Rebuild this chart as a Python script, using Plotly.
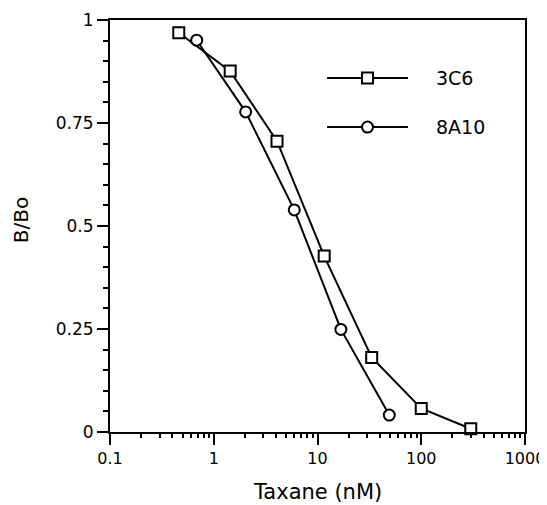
import plotly.graph_objects as go

# ---- data ----
x_3c6 = [0.46, 1.44, 4.07, 11.6, 33.3, 100, 300]
y_3c6 = [0.969, 0.876, 0.706, 0.427, 0.181, 0.057, 0.008]
x_8a10 = [0.685, 2.03, 5.97, 16.8, 49.2]
y_8a10 = [0.951, 0.777, 0.539, 0.249, 0.041]
series_names = ["3C6", "8A10"]
x_tickvals = [0.1, 1, 10, 100, 1000]
x_ticktext = ["0.1", "1", "10", "100", "1000"]
y_tickvals = [0, 0.25, 0.5, 0.75, 1]
y_ticktext = ["0", "0.25", "0.5", "0.75", "1"]
x_title = "Taxane (nM)"
y_title = "B/Bo"

FONT = "DejaVu Sans, Liberation Sans, sans-serif"
BLACK = "black"

x_minor = [m * 10 ** e for e in range(-1, 3) for m in range(2, 10)]

fig = go.Figure()

marker_sq = dict(symbol="square", size=11, color="white", line=dict(color=BLACK, width=2))
marker_ci = dict(symbol="circle", size=11, color="white", line=dict(color=BLACK, width=2))

fig.add_trace(go.Scatter(x=x_3c6, y=y_3c6, mode="lines+markers", name=series_names[0],
                         line=dict(color=BLACK, width=2), marker=marker_sq, cliponaxis=False,
                         showlegend=False))
fig.add_trace(go.Scatter(x=x_8a10, y=y_8a10, mode="lines+markers", name=series_names[1],
                         line=dict(color=BLACK, width=2), marker=marker_ci, cliponaxis=False,
                         showlegend=False))

# ---- manual legend on an overlay axis ----
leg_rows = [0.75, 0.25]
for row, mk in zip(leg_rows, [marker_sq, marker_ci]):
    fig.add_trace(go.Scatter(x=[0, 0.5, 1], y=[row] * 3, xaxis="x2", yaxis="y2",
                             mode="lines", line=dict(color=BLACK, width=2), showlegend=False, hoverinfo="skip"))
    fig.add_trace(go.Scatter(x=[0.5], y=[row], xaxis="x2", yaxis="y2",
                             mode="markers", marker=mk, showlegend=False, hoverinfo="skip", cliponaxis=False))

leg_text_y = [0.859, 0.740]
for name, yy in zip(series_names, leg_text_y):
    fig.add_annotation(x=0.781, y=yy, xref="paper", yref="paper", text=name, showarrow=False,
                       xanchor="left", yanchor="middle", font=dict(family=FONT, size=19, color=BLACK))

# axis titles
fig.add_annotation(x=0.5, y=-0.146, xref="paper", yref="paper", text=x_title, showarrow=False,
                   xanchor="center", yanchor="middle", font=dict(family=FONT, size=21, color=BLACK))
fig.add_annotation(x=-0.216, y=0.515, xref="paper", yref="paper", text=y_title, showarrow=False,
                   textangle=-90, xanchor="center", yanchor="middle",
                   font=dict(family=FONT, size=20, color=BLACK))

# the page body adds an 8px offset, so the figure is 8px smaller on each axis
fig.update_layout(
    width=539, height=497,
    margin=dict(l=102, r=22, t=12, b=73),
    paper_bgcolor="white", plot_bgcolor="white",
    font=dict(family=FONT, size=17, color=BLACK),
    showlegend=False,
    xaxis=dict(
        type="log", range=[-1, 3], automargin=False,
        tickvals=x_tickvals, ticktext=x_ticktext,
        ticks="outside", ticklen=11, tickwidth=2, tickcolor=BLACK,
        showline=True, linewidth=2, linecolor=BLACK, mirror=True,
        showgrid=False, zeroline=False,
        tickfont=dict(family=FONT, size=16, color=BLACK),
        minor=dict(tickvals=x_minor, ticks="outside", ticklen=4, tickwidth=2, tickcolor=BLACK, showgrid=False),
    ),
    yaxis=dict(
        range=[0, 1], automargin=False,
        tickvals=y_tickvals, ticktext=y_ticktext,
        ticks="outside", ticklen=11, tickwidth=2, tickcolor=BLACK,
        showline=True, linewidth=2, linecolor=BLACK, mirror=True,
        showgrid=False, zeroline=False,
        tickfont=dict(family=FONT, size=17, color=BLACK),
        minor=dict(dtick=0.05, ticks="outside", ticklen=5, tickwidth=2, tickcolor=BLACK, showgrid=False),
    ),
    xaxis2=dict(domain=[0.523, 0.718], range=[0, 1], anchor="y2", visible=False, fixedrange=True),
    yaxis2=dict(domain=[0.6805, 0.9185], range=[0, 1], anchor="x2", visible=False, fixedrange=True),
)

fig.write_html("out.html")
